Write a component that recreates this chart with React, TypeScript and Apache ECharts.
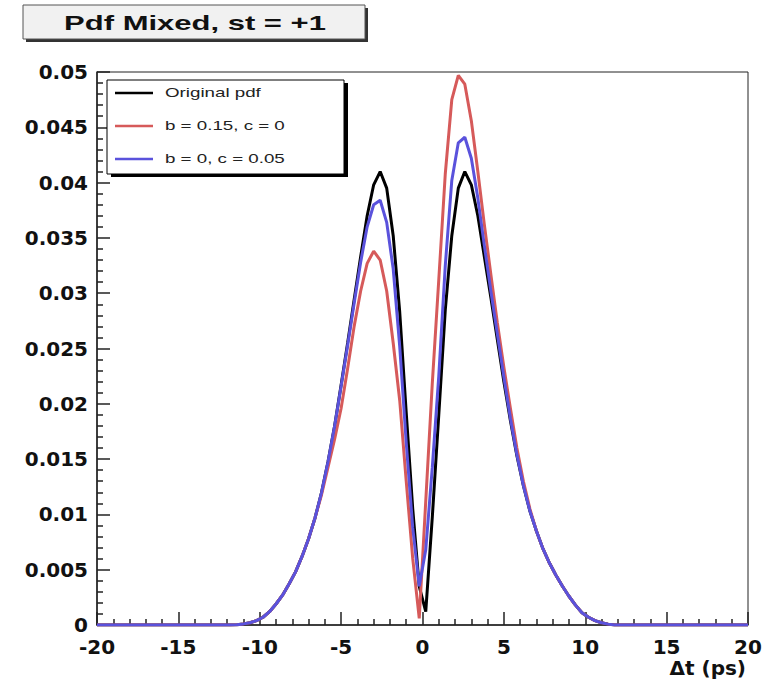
import React, { useEffect, useRef } from 'react';
import * as echarts from 'echarts';

// Δt bin centres (ps); the curves are flat at zero outside ±11.8
const dt = [
  -20, -11.8, -11.4, -11.0, -10.6, -10.2, -9.8, -9.4, -9.0, -8.6, -8.2, -7.8, -7.4, -7.0, -6.6,
  -6.2, -5.8, -5.4, -5.0, -4.6, -4.2, -3.8, -3.4, -3.0, -2.6, -2.2, -1.8, -1.4, -1.0, -0.6, -0.2,
  0.2, 0.6, 1.0, 1.4, 1.8, 2.2, 2.6, 3.0, 3.4, 3.8, 4.2, 4.6, 5.0, 5.4, 5.8, 6.2, 6.6, 7.0, 7.4,
  7.8, 8.2, 8.6, 9.0, 9.4, 9.8, 10.2, 10.6, 11.0, 11.4, 11.8, 20,
];

const originalPdf = [
  0, 0, 0.00003, 0.0001, 0.0002, 0.0004, 0.0007, 0.0012, 0.0019, 0.0027, 0.0037, 0.0048, 0.0062, 0.0078, 0.0097,
  0.012, 0.0148, 0.018, 0.0217, 0.0255, 0.0294, 0.0333, 0.037, 0.0398, 0.041, 0.0395, 0.0352, 0.0283, 0.0192, 0.0105, 0.0035,
  0.0012, 0.0097, 0.019, 0.0285, 0.0352, 0.0395, 0.041, 0.0398, 0.037, 0.0333, 0.0296, 0.0258, 0.022, 0.0185, 0.0153, 0.0126, 0.0103, 0.0085, 0.0069,
  0.0056, 0.0045, 0.0035, 0.0026, 0.0018, 0.0011, 0.0007, 0.0004, 0.0002, 0.00008, 0, 0,
];

const pdfB015C0 = [
  0, 0, 0.00003, 0.0001, 0.0002, 0.0004, 0.0007, 0.0012, 0.0019, 0.0027, 0.0037, 0.0048, 0.0062, 0.0078, 0.0097,
  0.0118, 0.0143, 0.0168, 0.0196, 0.0232, 0.027, 0.0302, 0.0327, 0.0338, 0.033, 0.0302, 0.0255, 0.0203, 0.013, 0.006, 0.0006,
  0.0112, 0.0218, 0.0312, 0.0408, 0.0475, 0.0497, 0.0489, 0.0456, 0.041, 0.0362, 0.0317, 0.0273, 0.0233, 0.0196, 0.016, 0.013, 0.0105, 0.0085, 0.0069,
  0.0056, 0.0045, 0.0035, 0.0026, 0.0018, 0.0011, 0.0007, 0.0004, 0.0002, 0.00008, 0, 0,
];

const pdfB0C005 = [
  0, 0, 0.00003, 0.0001, 0.0002, 0.0004, 0.0007, 0.0012, 0.0019, 0.0027, 0.0037, 0.0048, 0.0062, 0.0078, 0.0097,
  0.012, 0.0148, 0.018, 0.0216, 0.0253, 0.0291, 0.0328, 0.036, 0.038, 0.0384, 0.0364, 0.0322, 0.0252, 0.0165, 0.0088, 0.0035,
  0.0068, 0.0142, 0.0225, 0.0325, 0.0402, 0.0436, 0.0441, 0.0422, 0.0386, 0.0343, 0.0302, 0.0263, 0.0224, 0.0187, 0.0154, 0.0126, 0.0103, 0.0085, 0.0069,
  0.0056, 0.0045, 0.0035, 0.0026, 0.0018, 0.0011, 0.0007, 0.0004, 0.0002, 0.00008, 0, 0,
];

const seriesNames = ['Original pdf', 'b = 0.15, c = 0', 'b = 0, c = 0.05'];
const seriesColors = ['#000000', '#d65a5a', '#5a52dc'];
const seriesValues = [originalPdf, pdfB015C0, pdfB0C005];

const titleText = 'Pdf Mixed, st = +1';
const xAxisTitle = 'Δt (ps)';

const TICK_FONT = 'DejaVu Sans';

export default function App() {
  const ref = useRef<HTMLDivElement>(null);

  useEffect(() => {
    const chart = echarts.init(ref.current!, null, { renderer: 'svg' });

    const legendRows = seriesNames.map((name, i) => {
      const y = 93 + i * 33;
      return [
        {
          type: 'line',
          shape: { x1: 115, y1: y, x2: 153, y2: y },
          style: { stroke: seriesColors[i], lineWidth: 2.5 },
          z: 12,
        },
        {
          type: 'text',
          x: 165,
          y,
          scaleX: 1.5,
          style: {
            text: name,
            fontFamily: 'Liberation Sans',
            fontSize: 12.5,
            fill: '#222',
            textAlign: 'left',
            textVerticalAlign: 'middle',
          },
          z: 12,
        },
      ];
    }).flat();

    chart.setOption({
      animation: false,
      backgroundColor: '#ffffff',
      grid: {
        left: 97,
        top: 72,
        width: 651,
        height: 553,
        show: true,
        borderColor: '#222',
        borderWidth: 1,
        backgroundColor: 'transparent',
      },
      xAxis: {
        type: 'value',
        min: -20,
        max: 20,
        interval: 5,
        name: xAxisTitle,
        nameLocation: 'end',
        nameGap: -2,
        nameTextStyle: {
          fontFamily: TICK_FONT,
          fontWeight: 'bold',
          fontSize: 20,
          color: '#111',
          align: 'right',
          verticalAlign: 'top',
          padding: [33, 0, 0, 0],
        },
        axisLine: { show: true, onZero: false, lineStyle: { color: '#222', width: 1.5 } },
        axisTick: { show: true, inside: true, length: 13, lineStyle: { color: '#222', width: 1.5 } },
        minorTick: { show: true, splitNumber: 5, length: 6, lineStyle: { color: '#222', width: 1.5 } },
        splitLine: { show: false },
        axisLabel: {
          margin: 12,
          fontFamily: TICK_FONT,
          fontWeight: 'bold',
          fontSize: 20,
          color: '#111',
        },
      },
      yAxis: {
        type: 'value',
        min: 0,
        max: 0.05,
        interval: 0.005,
        axisLine: { show: true, onZero: false, lineStyle: { color: '#222', width: 1.5 } },
        axisTick: { show: true, inside: true, length: 13, lineStyle: { color: '#222', width: 1.5 } },
        minorTick: { show: true, splitNumber: 5, length: 6, lineStyle: { color: '#222', width: 1.5 } },
        splitLine: { show: false },
        axisLabel: {
          margin: 9,
          fontFamily: TICK_FONT,
          fontWeight: 'bold',
          fontSize: 20,
          color: '#111',
        },
      },
      series: seriesValues.map((vals, i) => ({
        name: seriesNames[i],
        type: 'line',
        symbol: 'none',
        data: dt.map((x, k) => [x, vals[k]]),
        lineStyle: { color: seriesColors[i], width: 3 },
        itemStyle: { color: seriesColors[i] },
        z: 2 + i,
      })),
      graphic: [
        // title box with its drop shadow
        {
          type: 'rect',
          shape: { x: 26, y: 8, width: 342, height: 34 },
          style: { fill: '#333' },
          z: 10,
        },
        {
          type: 'rect',
          shape: { x: 23, y: 5, width: 342, height: 34 },
          style: { fill: '#f1f1f1', stroke: '#555', lineWidth: 1 },
          z: 11,
        },
        {
          type: 'text',
          x: 195,
          y: 23,
          scaleX: 1.55,
          style: {
            text: titleText,
            fontFamily: 'Liberation Sans',
            fontWeight: 'bold',
            fontSize: 20,
            fill: '#111',
            textAlign: 'center',
            textVerticalAlign: 'middle',
          },
          z: 12,
        },
        // legend box with its drop shadow
        {
          type: 'rect',
          shape: { x: 111, y: 83, width: 237, height: 94 },
          style: { fill: '#000' },
          z: 10,
        },
        {
          type: 'rect',
          shape: { x: 107, y: 80, width: 237, height: 94 },
          style: { fill: '#fff', stroke: '#000', lineWidth: 1 },
          z: 11,
        },
        ...legendRows,
      ],
    });

    return () => chart.dispose();
  }, []);

  return (
    <div
      ref={ref}
      style={{ position: 'absolute', left: 0, top: 0, width: 769, height: 680, background: '#fff' }}
    />
  );
}
